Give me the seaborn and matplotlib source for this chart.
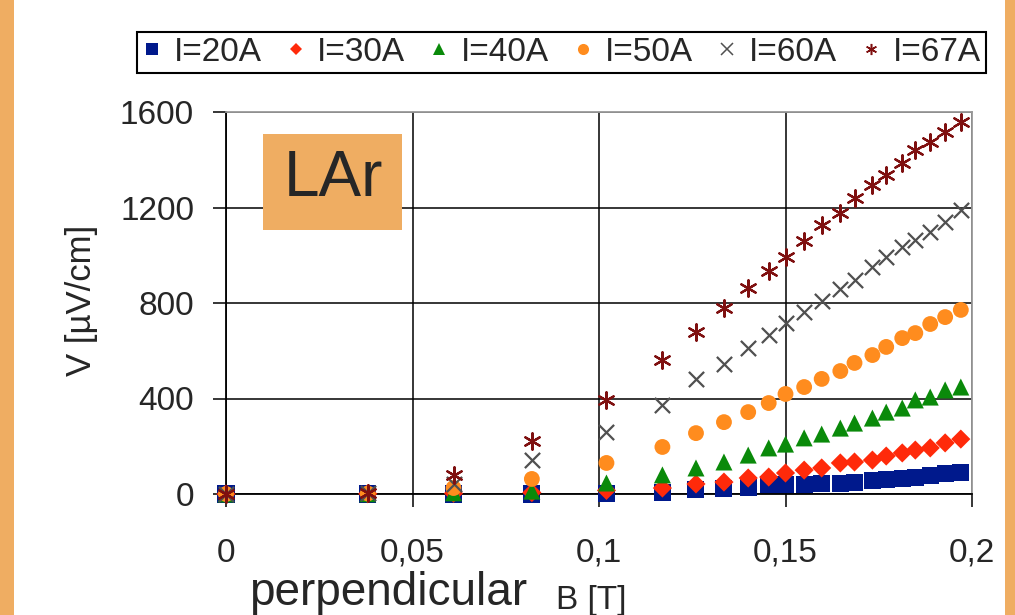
import matplotlib
matplotlib.use("Agg")
import matplotlib.pyplot as plt
from matplotlib.lines import Line2D
from matplotlib.patches import Rectangle
import seaborn as sns
import pandas as pd
import numpy as np

# ---- data ----
B = [0, 0.038, 0.061, 0.082, 0.102, 0.117, 0.126, 0.1335, 0.140, 0.1455, 0.150,
     0.155, 0.1597, 0.1647, 0.1685, 0.1733, 0.177, 0.1813, 0.1848, 0.1888, 0.1928, 0.197]
V_20A = [0, 0, 0, 0, 2, 8, 17, 25, 29, 38, 38, 40, 42, 46, 48, 56, 59, 64, 71, 77, 84, 88]
V_30A = [0, 1, 3, 6, 15, 25, 42, 50, 67, 71, 88, 100, 109, 130, 134, 142, 159, 172, 184, 193, 214, 230]
V_40A = [0, 1, 5, 12, 46, 80, 109, 134, 163, 193, 209, 235, 251, 276, 297, 318, 343, 360, 394, 406, 436, 448]
V_50A = [0, 2, 25, 63, 130, 197, 255, 301, 343, 381, 419, 448, 482, 515, 549, 582, 616, 653, 674, 712, 741, 771]
V_60A = [0, 3, 40, 142, 260, 373, 482, 544, 611, 666, 716, 762, 808, 858, 896, 951, 993, 1034, 1064, 1097, 1139, 1189]
V_67A = [0, 5, 80, 220, 394, 561, 679, 779, 863, 934, 993, 1060, 1127, 1177, 1240, 1294, 1336, 1386, 1441, 1474, 1516, 1558]

series_labels = ["I=20A", "I=30A", "I=40A", "I=50A", "I=60A", "I=67A"]
x_ticks = [0, 0.05, 0.1, 0.15, 0.2]
x_tick_labels = ["0", "0,05", "0,1", "0,15", "0,2"]
y_ticks = [0, 400, 800, 1200, 1600]

# ---- styles ----
colors = ["#00198C", "#FF2A0A", "#0A8A0A", "#FF8C1E", "#505050", "#7F1010"]
markers = ["s", "D", "^", "o", "x", (6, 2, 0)]
sizes = [150, 95, 150, 130, 120, 140]
ORANGE = "#EFAD62"

sns.set_style("white")
plt.rcParams["font.family"] = ["Liberation Sans", "DejaVu Sans"]

fig = plt.figure(figsize=(10.15, 6.15), dpi=100)
fig.patch.set_facecolor("white")
W, H = 1015, 615
# orange side strips
fig.patches.append(Rectangle((0, 0), 14 / W, 1, transform=fig.transFigure,
                             facecolor=ORANGE, edgecolor="none", zorder=-5))
fig.patches.append(Rectangle((1005 / W, 0), 10 / W, 1, transform=fig.transFigure,
                             facecolor=ORANGE, edgecolor="none", zorder=-5))

ax = fig.add_axes([226 / W, 1 - 494 / H, (972 - 226) / W, (494 - 112) / H])

all_series = [V_20A, V_30A, V_40A, V_50A, V_60A, V_67A]
for i, (vals, lab) in enumerate(zip(all_series, series_labels)):
    df = pd.DataFrame({"B": B, "V": vals})
    line_marker = markers[i] == "x" or isinstance(markers[i], tuple)
    lw = 1.6 if line_marker else 0
    sns.scatterplot(data=df, x="B", y="V", ax=ax, marker=markers[i], s=sizes[i],
                    color=colors[i], edgecolor=colors[i] if lw else "none",
                    linewidth=lw, legend=False, clip_on=False, zorder=3 + i)

ax.set_xlim(0, 0.2)
ax.set_ylim(0, 1600)
ax.set_xticks(x_ticks)
ax.set_xticklabels(x_tick_labels)
ax.set_yticks(y_ticks)
ax.set_yticklabels([str(v) for v in y_ticks])
ax.grid(True, color="black", linewidth=1.1, zorder=1)
ax.set_axisbelow(True)
for s in ["left", "bottom"]:
    ax.spines[s].set_color("black")
    ax.spines[s].set_linewidth(1.3)
for s in ["top", "right"]:
    ax.spines[s].set_color("#9A9A9A")
    ax.spines[s].set_linewidth(1.3)
ax.tick_params(axis="y", direction="out", length=9.5, width=1.1, color="black",
               labelsize=24, pad=13.5, left=True)
ax.tick_params(axis="x", direction="out", length=9.5, width=1.1, color="black",
               labelsize=24, pad=22, bottom=True)
ax.set_xlabel("")
ax.set_ylabel("V [µV/cm]", fontsize=25)
ax.yaxis.set_label_coords((82 - 226) / 746, 0.508)
ax.yaxis.label.set_va("center")

# x axis title in two sizes
fig.text(249 / W, 1 - 605 / H, "perpendicular", fontsize=33, ha="left", va="baseline")
fig.text(556 / W, 1 - 609 / H, "B [T]", fontsize=24, ha="left", va="baseline")

# LAr label box
fig.patches.append(Rectangle((263 / W, 1 - 230 / H), (402 - 263) / W, (230 - 134) / H,
                             transform=fig.transFigure, facecolor=ORANGE,
                             edgecolor="none", zorder=10))
fig.text(333 / W, 1 - 179 / H, "LAr", fontsize=46, ha="center", va="center", zorder=11)

# legend
handles = [Line2D([], [], linestyle="none", marker=markers[i], color=colors[i],
                  markeredgecolor=colors[i], markersize=8 if i != 1 else 6,
                  markeredgewidth=1.1 if i >= 4 else 0)
           for i in range(6)]
leg = fig.legend(handles, series_labels, loc="upper left",
                 bbox_to_anchor=(137 / W, 1 - 32 / H), ncol=6, fontsize=24,
                 frameon=True, fancybox=False, edgecolor="black", framealpha=1,
                 borderpad=0.15, handlelength=0.6, handletextpad=0.35,
                 columnspacing=0.72, borderaxespad=0)
leg.get_frame().set_linewidth(1.5)

fig.savefig("out.png", dpi=100)
